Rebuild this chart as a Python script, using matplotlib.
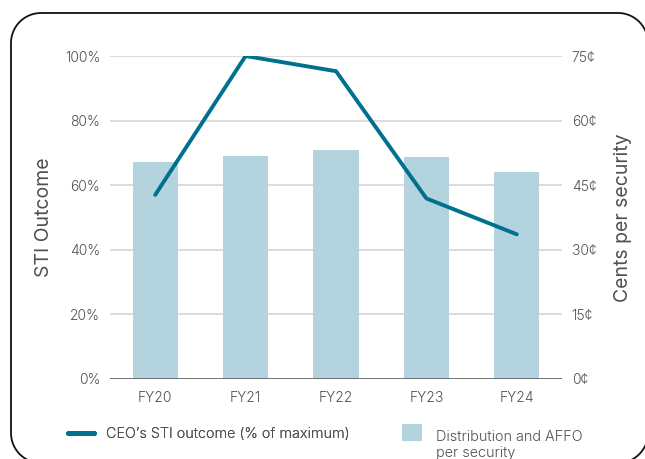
import matplotlib
matplotlib.use("Agg")
import numpy as np
import matplotlib.pyplot as plt
from matplotlib.patches import PathPatch, Patch
from matplotlib.path import Path
from matplotlib.lines import Line2D

# Data
years = ["FY20", "FY21", "FY22", "FY23", "FY24"]
sti_outcome = [57.0, 100.0, 95.3, 55.9, 44.8]       # % of maximum
distribution_cents = [50.4, 51.8, 53.2, 51.6, 48.1]  # cents per security

left_ticks = [0, 20, 40, 60, 80, 100]
right_ticks = [0, 15, 30, 45, 60, 75]

line_color = "#00708f"
bar_color = "#b3d4de"
text_color = "#505050"
grid_color = "#d9d9d9"

plt.rcParams["font.family"] = ["Inter", "DejaVu Sans"]
plt.rcParams["font.weight"] = 300

W, H = 645, 459
fig = plt.figure(figsize=(W / 100, H / 100), dpi=100)


def rounded_frame(x0, y0, x1, y1, r, n=30):
    # closed outline with round corners, pixel coords (origin bottom-left)
    pts = []
    corners = [(x1 - r, y1 - r, 0), (x0 + r, y1 - r, 90),
               (x0 + r, y0 + r, 180), (x1 - r, y0 + r, 270)]
    for cx, cy, a0 in corners:
        t = np.radians(np.linspace(a0, a0 + 90, n))
        pts.extend(zip(cx + r * np.cos(t), cy + r * np.sin(t)))
    pts.append(pts[0])
    pts = np.array(pts)
    pts[:, 0] /= W
    pts[:, 1] /= H
    return Path(pts)


frame = PathPatch(rounded_frame(11, H - 463, 648, H - 13, 30),
                  transform=fig.transFigure, facecolor="none",
                  edgecolor="#111111", linewidth=1.3, clip_on=False)
fig.add_artist(frame)

ax = fig.add_axes([110 / W, 1 - 379 / H, 452 / W, 323 / H])
ax2 = ax.twinx()

x = range(len(years))

# bars on the right (cents) axis
ax2.bar(x, distribution_cents, width=0.5, color=bar_color, zorder=2)
ax2.set_ylim(0, 75)
ax2.set_yticks(right_ticks)
ax2.set_yticklabels([f"{t}¢" for t in right_ticks])
ax2.set_ylabel("Cents per security", fontsize=14, color=text_color)
ax2.yaxis.set_label_coords((614 - 110) / 452, 0.5)

# line on the left (%) axis, drawn above the bars
ax.set_zorder(ax2.get_zorder() + 1)
ax.patch.set_visible(False)
ax.plot(x, sti_outcome, color=line_color, linewidth=2.8,
        solid_capstyle="round", solid_joinstyle="miter", zorder=3)
ax.set_ylim(0, 100)
ax.set_yticks(left_ticks)
ax.set_yticklabels([f"{t}%" for t in left_ticks])
ax.set_ylabel("STI Outcome", fontsize=14, color=text_color)
ax.yaxis.set_label_coords((53 - 110) / 452, 0.5)
ax.set_xlim(-0.5, len(years) - 0.5)
ax.set_xticks(list(x))
ax.set_xticklabels(years)

# horizontal gridlines drawn behind the bars
for t in right_ticks[1:]:
    ax2.axhline(t, color=grid_color, linewidth=1.3, zorder=1)
ax2.axhline(0, color="#666666", linewidth=2, zorder=4)

for a in (ax, ax2):
    for s in a.spines.values():
        s.set_visible(False)
    a.tick_params(length=0, labelsize=10, colors=text_color)
ax.tick_params(axis="y", pad=7)
ax.tick_params(axis="x", pad=9)
ax2.tick_params(axis="y", pad=7)

# legend: one block per series
leg1 = fig.legend(
    [Line2D([], [], color=line_color, linewidth=3.5, solid_capstyle="round")],
    ["CEO\u2019s STI outcome (% of maximum)"],
    loc="center left", bbox_to_anchor=(68 / W, 1 - 434 / H),
    frameon=False, fontsize=10.4, labelcolor=text_color,
    handlelength=1.8, handletextpad=0.85, borderpad=0, borderaxespad=0,
)
leg2 = fig.legend(
    [Patch(facecolor=bar_color, edgecolor="none")],
    ["Distribution and AFFO\nper security"],
    loc="upper left", bbox_to_anchor=(402 / W, 1 - 430 / H),
    frameon=False, fontsize=10.4, labelcolor=text_color,
    handlelength=1.39, handleheight=1.46, handletextpad=0.97,
    borderpad=0, borderaxespad=0,
)
# keep the swatch level with the first text line
swatch = leg2.legend_handles[0]
swatch.set_y(swatch.get_y() + 9.5)
fig.add_artist(leg1)

fig.savefig("out.png", dpi=100)
